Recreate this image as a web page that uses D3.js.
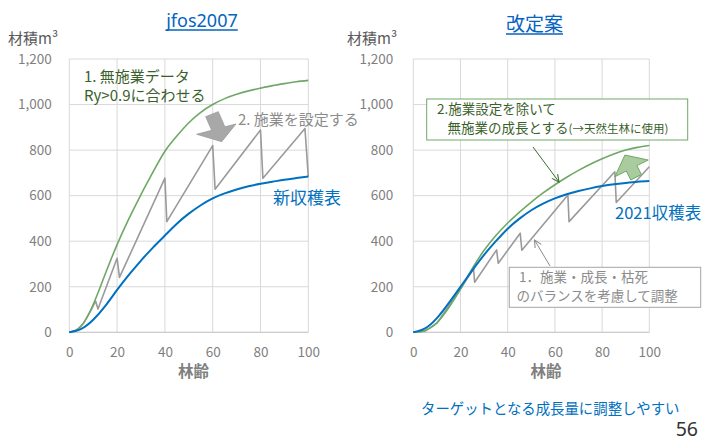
<!DOCTYPE html>
<html>
<head>
<meta charset="utf-8">
<script src="https://cdn.jsdelivr.net/npm/d3@7"></script>
<style>
  html, body { margin: 0; padding: 0; background: #fff; }
  svg { display: block; font-family: "Noto Sans CJK JP", "Noto Sans", sans-serif; }
</style>
</head>
<body>
<svg id="chart" width="703" height="441"></svg>
<script>
// Stand age (years) sampled for the smooth yield curves
const ages = [0, 5, 10, 15, 20, 25, 30, 35, 40, 45, 50, 55, 60, 65, 70, 75, 80, 85, 90, 95, 100];

// jfos2007 panel: volume (m3) per stand age
const jfosUnmanaged    = [0, 28, 122, 255, 385, 500, 605, 703, 795, 862, 920, 966, 1000, 1026, 1045, 1060, 1072, 1083, 1092, 1100, 1106];
const jfosHarvestTable = [0, 15, 55, 115, 186, 253, 315, 372, 425, 477, 521, 558, 588, 610, 627, 641, 652, 661, 670, 677, 684];
// jfos2007 panel: managed stand with thinnings (age, volume)
const jfosManagedAges  = [0, 3, 6, 9, 11, 12, 20, 21, 40, 40.8, 60, 61, 80, 81, 98.6, 100];
const jfosManaged      = [0, 8, 40, 95, 137, 102, 325, 241, 677, 486, 820, 628, 888, 676, 895, 683];

// Revised panel: volume (m3) per stand age
const revUnmanaged     = [0, 8, 42, 108, 190, 280, 360, 425, 480, 528, 572, 612, 648, 681, 711, 738, 762, 783, 800, 812, 820];
const revHarvestTable  = [0, 17, 62, 128, 200, 272, 340, 400, 455, 499, 536, 565, 588, 606, 620, 632, 642, 650, 656, 661, 664];
// Revised panel: managed stand with thinnings (age, volume)
const revManagedAges   = [0, 5, 10, 20, 25.5, 26, 35.3, 36, 45.3, 46, 65.5, 66, 85.4, 86, 100];
const revManaged       = [0, 5, 40, 190, 280, 220, 362, 303, 435, 360, 603, 486, 705, 570, 727];

// Axis ticks
const volumeTicks = [0, 200, 400, 600, 800, 1000, 1200];
const ageTicks = [0, 20, 40, 60, 80, 100];

const svg = d3.select("#chart");
svg.append("rect").attr("width", 703).attr("height", 441).attr("fill", "#fff");

const COLORS = {
  unmanaged: "#6fa866",
  harvest: "#0070c0",
  managed: "#9a9a9a",
  grid: "#d9d9d9",
  tick: "#7f7f7f",
  axisTitle: "#595959"
};

const defs = svg.append("defs");
function addArrowMarker(id, color) {
  defs.append("marker")
    .attr("id", id)
    .attr("viewBox", "0 0 10 10")
    .attr("refX", 9).attr("refY", 5)
    .attr("markerWidth", 9).attr("markerHeight", 9)
    .attr("markerUnits", "userSpaceOnUse")
    .attr("orient", "auto")
    .append("path")
    .attr("d", "M1,1 L9,5 L1,9")
    .attr("fill", "none")
    .attr("stroke", color)
    .attr("stroke-width", 1.2);
}
addArrowMarker("arrowGreen", "#3d6b35");
addArrowMarker("arrowGray", "#8c8c8c");

function drawPanel(opt) {
  const x = d3.scaleLinear().domain([0, 100]).range([opt.left, opt.right]);
  const y = d3.scaleLinear().domain([0, 1200]).range([332.3, 59]);
  const g = svg.append("g");

  // grid
  g.append("g").selectAll("line").data(volumeTicks).join("line")
    .attr("x1", x(0)).attr("x2", x(100))
    .attr("y1", d => y(d)).attr("y2", d => y(d))
    .attr("stroke", COLORS.grid).attr("stroke-width", 1);
  g.append("g").selectAll("line").data(ageTicks).join("line")
    .attr("x1", d => x(d)).attr("x2", d => x(d))
    .attr("y1", y(0)).attr("y2", y(1200))
    .attr("stroke", COLORS.grid).attr("stroke-width", 1);
  g.append("line")
    .attr("x1", x(0)).attr("x2", x(100)).attr("y1", y(0)).attr("y2", y(0))
    .attr("stroke", "#c8c8c8").attr("stroke-width", 1);

  // axes (labels only)
  const yAxis = g.append("g").attr("transform", `translate(${x(0)},0)`)
    .call(d3.axisLeft(y).tickValues(volumeTicks).tickFormat(d3.format(",")).tickSize(0).tickPadding(opt.yPad));
  const xAxis = g.append("g").attr("transform", `translate(0,${y(0)})`)
    .call(d3.axisBottom(x).tickValues(ageTicks).tickSize(0).tickPadding(15));
  [yAxis, xAxis].forEach(a => {
    a.select(".domain").remove();
    a.selectAll("text")
      .attr("fill", COLORS.tick)
      .style("font-family", '"Noto Sans CJK JP", sans-serif')
      .style("font-size", "13.5px");
  });

  // axis titles
  g.append("text")
    .attr("x", opt.yTitleX).attr("y", 44)
    .attr("fill", COLORS.axisTitle)
    .style("font-size", "15px")
    .text("材積m³");
  g.append("text")
    .attr("x", opt.xTitleX).attr("y", 377)
    .attr("text-anchor", "middle")
    .attr("fill", COLORS.tick)
    .style("font-size", "15.5px")
    .style("font-weight", "bold")
    .text("林齢");

  // panel title with underline
  const t = g.append("text")
    .attr("x", opt.titleX).attr("y", opt.titleY)
    .attr("text-anchor", "middle")
    .attr("fill", "#0563c1")
    .style("font-size", opt.titleSize + "px")
    .style("font-family", opt.titleFont)
    .text(opt.title);
  const tw = t.node().getComputedTextLength();
  g.append("line")
    .attr("x1", opt.titleX - tw / 2).attr("x2", opt.titleX + tw / 2)
    .attr("y1", opt.titleY + 3).attr("y2", opt.titleY + 3)
    .attr("stroke", "#0563c1").attr("stroke-width", 1.3);

  // series
  const smooth = d3.line().x(d => x(d[0])).y(d => y(d[1])).curve(d3.curveNatural);
  const straight = d3.line().x(d => x(d[0])).y(d => y(d[1]));
  const zip = (a, b) => a.map((v, i) => [v, b[i]]);

  g.append("path").attr("d", straight(zip(opt.managedAges, opt.managed)))
    .attr("fill", "none").attr("stroke", COLORS.managed).attr("stroke-width", 1.6)
    .attr("stroke-linejoin", "round");
  g.append("path").attr("d", smooth(zip(ages, opt.unmanaged)))
    .attr("fill", "none").attr("stroke", COLORS.unmanaged).attr("stroke-width", 1.6);
  g.append("path").attr("d", smooth(zip(ages, opt.harvest)))
    .attr("fill", "none").attr("stroke", COLORS.harvest).attr("stroke-width", 2);

  return { g, x, y };
}

// ---- jfos2007 panel ----
const L = drawPanel({
  left: 69.3, right: 308.3, yPad: 17.5,
  yTitleX: 8, xTitleX: 193.5,
  title: "jfos2007", titleX: 202, titleY: 27, titleSize: 18, titleFont: '"Noto Sans", sans-serif',
  unmanaged: jfosUnmanaged, harvest: jfosHarvestTable,
  managedAges: jfosManagedAges, managed: jfosManaged
});

L.g.append("text").attr("x", 84).attr("y", 82)
  .attr("fill", "#3b5f2c").style("font-size", "15px").text("1. 無施業データ");
L.g.append("text").attr("x", 84).attr("y", 101)
  .attr("fill", "#3b5f2c").style("font-size", "15px").text("Ry>0.9に合わせる");

// gray block arrow pointing at the thinning curve
const grayArrow = [[-10.6, -12.5], [2, -17.5], [8.6, -2.3], [19.7, -5.2], [5.4, 12.5], [-19.6, 5.1], [-4.6, 1.2]];
L.g.append("polygon")
  .attr("transform", `translate(${L.x(61.5)},${L.y(892)})`)
  .attr("points", grayArrow.map(p => p.join(",")).join(" "))
  .attr("fill", "#a8a8a8").attr("stroke", "#9a9a9a").attr("stroke-width", 0.8);
L.g.append("text").attr("x", 238).attr("y", 125)
  .attr("fill", "#8c8c8c").style("font-size", "15px").text("2. 施業を設定する");

L.g.append("text").attr("x", 273).attr("y", 204)
  .attr("fill", "#0070c0").style("font-size", "17px").text("新収穫表");

// ---- revised panel ----
const R = drawPanel({
  left: 413.3, right: 649.3, yPad: 20,
  yTitleX: 347, xTitleX: 546,
  title: "改定案", titleX: 534.5, titleY: 31, titleSize: 19, titleFont: '"Noto Sans CJK JP", sans-serif',
  unmanaged: revUnmanaged, harvest: revHarvestTable,
  managedAges: revManagedAges, managed: revManaged
});

// green callout box
R.g.append("rect").attr("x", 426.7).attr("y", 99).attr("width", 261).attr("height", 41)
  .attr("fill", "#fff").attr("stroke", "#6fa866").attr("stroke-width", 1);
R.g.append("text").attr("x", 437).attr("y", 114)
  .attr("fill", "#3b5f2c").style("font-size", "13.5px").text("2.施業設定を除いて");
const line2 = R.g.append("text").attr("x", 447.5).attr("y", 132.5)
  .attr("fill", "#3b5f2c").style("font-size", "13.5px");
line2.append("tspan").text("無施業の成長とする");
line2.append("tspan").style("font-size", "11.5px").text("(→天然生林に使用)");
R.g.append("line").attr("x1", 533).attr("y1", 147).attr("x2", 559).attr("y2", 182)
  .attr("stroke", "#3d6b35").attr("stroke-width", 1).attr("marker-end", "url(#arrowGreen)");

// green block arrow (lift towards the unmanaged curve)
const greenArrow = [[-6.7, -13.3], [16.6, -8.3], [5.3, -2.7], [9.8, 6.2], [-0.8, 11.6], [-5.3, 2.7], [-16.7, 8.4]];
R.g.append("polygon")
  .attr("transform", `translate(${R.x(92.5)},${R.y(720)})`)
  .attr("points", greenArrow.map(p => p.join(",")).join(" "))
  .attr("fill", "#a9cb9e").attr("stroke", "#6fa866").attr("stroke-width", 1);

R.g.append("text").attr("x", 615).attr("y", 219)
  .attr("fill", "#0070c0").style("font-size", "16.5px").text("2021収穫表");

// gray callout box
R.g.append("rect").attr("x", 509.3).attr("y", 267.3).attr("width", 191.4).attr("height", 40)
  .attr("fill", "#fff").attr("stroke", "#a6a6a6").attr("stroke-width", 1);
R.g.append("text").attr("x", 519).attr("y", 282)
  .attr("fill", "#8c8c8c").style("font-size", "13.5px").text("1．施業・成長・枯死");
R.g.append("text").attr("x", 516.5).attr("y", 300.5)
  .attr("fill", "#8c8c8c").style("font-size", "13.5px").text("のバランスを考慮して調整");
R.g.append("line").attr("x1", 550).attr("y1", 266).attr("x2", 534.5).attr("y2", 240)
  .attr("stroke", "#8c8c8c").attr("stroke-width", 1).attr("marker-end", "url(#arrowGray)");

// footer
svg.append("text").attr("x", 421).attr("y", 414)
  .attr("fill", "#0070c0").style("font-size", "14.4px").text("ターゲットとなる成長量に調整しやすい");
svg.append("text").attr("x", 698).attr("y", 436).attr("text-anchor", "end")
  .attr("fill", "#333").style("font-size", "19.5px").style("font-family", '"Noto Sans", sans-serif').text("56");
</script>
</body>
</html>
